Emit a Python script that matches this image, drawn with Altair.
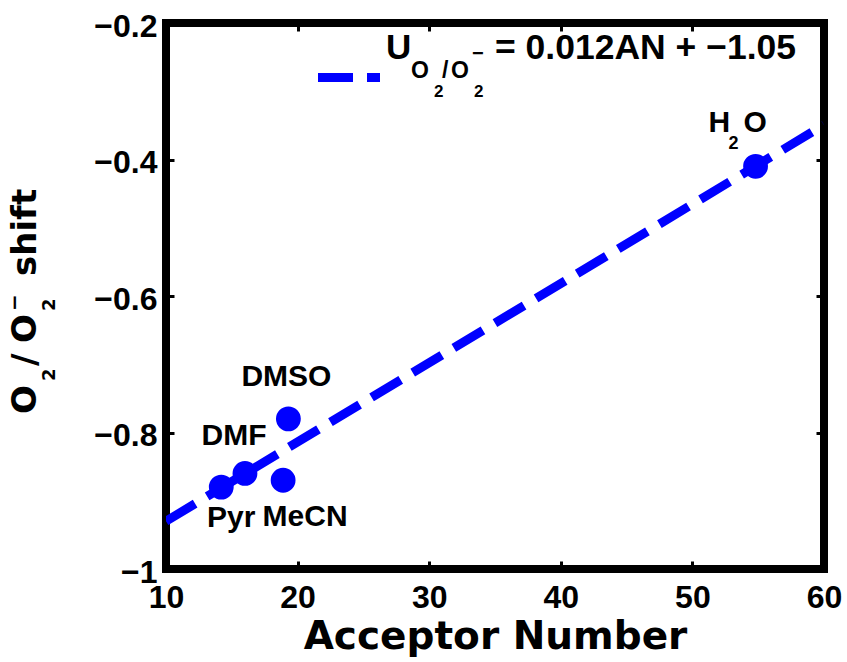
import altair as alt
import pandas as pd

# ---- data ----
solvents = ["Pyr", "DMF", "MeCN", "DMSO", "H2O"]
acceptor_number = [14.2, 16.0, 18.9, 19.3, 54.8]
shift = [-0.88, -0.86, -0.87, -0.78, -0.41]
x_ticks = [10, 20, 30, 40, 50, 60]
y_ticks = [-1, -0.8, -0.6, -0.4, -0.2]
x_domain = [10, 60]
y_domain = [-1, -0.2]

df = pd.DataFrame({"solvent": solvents, "an": acceptor_number, "shift": shift})

BLUE = "#0000ff"
FONT = "Liberation Sans"
WIDE = "DejaVu Sans"
W, H = 658, 546
PL, PT = 166, 23  # plot origin on the page

xs = alt.Scale(domain=x_domain, nice=False, zero=False)
ys = alt.Scale(domain=y_domain, nice=False, zero=False)

common_axis = dict(grid=False, domain=False, ticks=True, tickSize=8, tickWidth=3,
                   tickColor="black", offset=-8, labelFont=FONT, labelFontWeight="bold",
                   labelColor="black", labelFlush=False)

x_axis = alt.Axis(values=x_ticks, format="d", title="Acceptor Number", labelFontSize=32,
                  labelPadding=13, titleFont=WIDE, titleFontSize=39, titleFontWeight="bold",
                  titleColor="black", titleBaseline="alphabetic", titleY=87, **common_axis)
y_axis = alt.Axis(values=y_ticks, format="~g", title=None, labelFontSize=32,
                  labelPadding=9, labelOffset=3, **common_axis)
x_top = alt.Axis(values=x_ticks, orient="top", labels=False, title=None, **common_axis)
y_right = alt.Axis(values=y_ticks, orient="right", labels=False, title=None, **common_axis)

base = alt.Chart(df)
XN = alt.X("an:Q", scale=xs, axis=None)
YN = alt.Y("shift:Q", scale=ys, axis=None)

fit = base.transform_regression("an", "shift", extent=x_domain).mark_line(
    color=BLUE, strokeWidth=9, strokeDash=[34, 14], clip=True
).encode(x=alt.X("an:Q", scale=xs, axis=x_axis), y=alt.Y("shift:Q", scale=ys, axis=y_axis))

frame_axes = base.mark_point(opacity=0).encode(
    x=alt.X("an:Q", scale=xs, axis=x_top), y=alt.Y("shift:Q", scale=ys, axis=y_right)
)

pts = base.mark_point(filled=True, shape="circle", size=616, color=BLUE, opacity=1).encode(x=XN, y=YN)


def label(name, txt, dx, dy, size=30, align="center"):
    return base.transform_filter(alt.datum.solvent == name).mark_text(
        text=txt, dx=dx, dy=dy, fontSize=size, font=FONT, fontWeight="bold",
        color="black", align=align, baseline="alphabetic"
    ).encode(x=XN, y=YN)


labels = [
    label("Pyr", "Pyr", 10, 40),
    label("DMF", "DMF", -11, -28),
    label("MeCN", "MeCN", 22, 46),
    label("DMSO", "DMSO", -2, -33),
    label("H2O", "H", -47, -34, align="left"),
    label("H2O", "2", -27, -17, size=18, align="left"),
    label("H2O", "O", -12, -34, align="left"),
]

one = alt.Chart(alt.Data(values=[{}]))


def ptext(txt, px, py, size, font=FONT, angle=None, align="left"):
    kw = dict(text=txt, fontSize=size, font=font, fontWeight="bold", color="black",
              align=align, baseline="alphabetic")
    if angle is not None:
        kw["angle"] = angle
    return one.mark_text(**kw).encode(x=alt.value(px - PL), y=alt.value(py - PT))


# legend
legend_line = one.mark_rule(color=BLUE, strokeWidth=9, strokeDash=[35, 14]).encode(
    x=alt.value(318 - PL), x2=alt.value(380 - PL), y=alt.value(77.5 - PT)
)
legend = [
    legend_line,
    ptext("U", 386, 59, 35),
    ptext("O", 411, 78, 23),
    ptext("2", 434, 97, 17),
    ptext("/", 442, 78, 23),
    ptext("O", 451, 78, 23),
    ptext("\u2212", 472, 60, 20),
    ptext("2", 474, 97, 17),
    ptext("= 0.012AN + \u22121.05", 495, 59, 35.5),
]

# y-axis title, rotated, built from pieces
ytitle = [
    ptext("O", 36, 414, 34, font=WIDE, angle=270),
    ptext("2", 55, 381, 18, font=WIDE, angle=270),
    ptext("/", 36, 366, 34, font=WIDE, angle=270),
    ptext("O", 36, 343, 34, font=WIDE, angle=270),
    ptext("2", 55, 311, 18, font=WIDE, angle=270),
    ptext("\u2212", 21, 311, 20, font=WIDE, angle=270),
    ptext("shift", 36, 276, 34, font=WIDE, angle=270),
]

chart = alt.layer(fit, frame_axes, pts, *labels, *legend, *ytitle).resolve_axis(
    x="independent", y="independent"
).properties(
    width=W, height=H,
    autosize=alt.AutoSizeParams(type="none"),
    padding={"left": PL, "top": PT, "right": 847 - PL - W, "bottom": 662 - PT - H},
    background="white",
).configure_view(stroke="black", strokeWidth=8)

chart.save("out.html", embed_options={"renderer": "svg", "actions": False})
